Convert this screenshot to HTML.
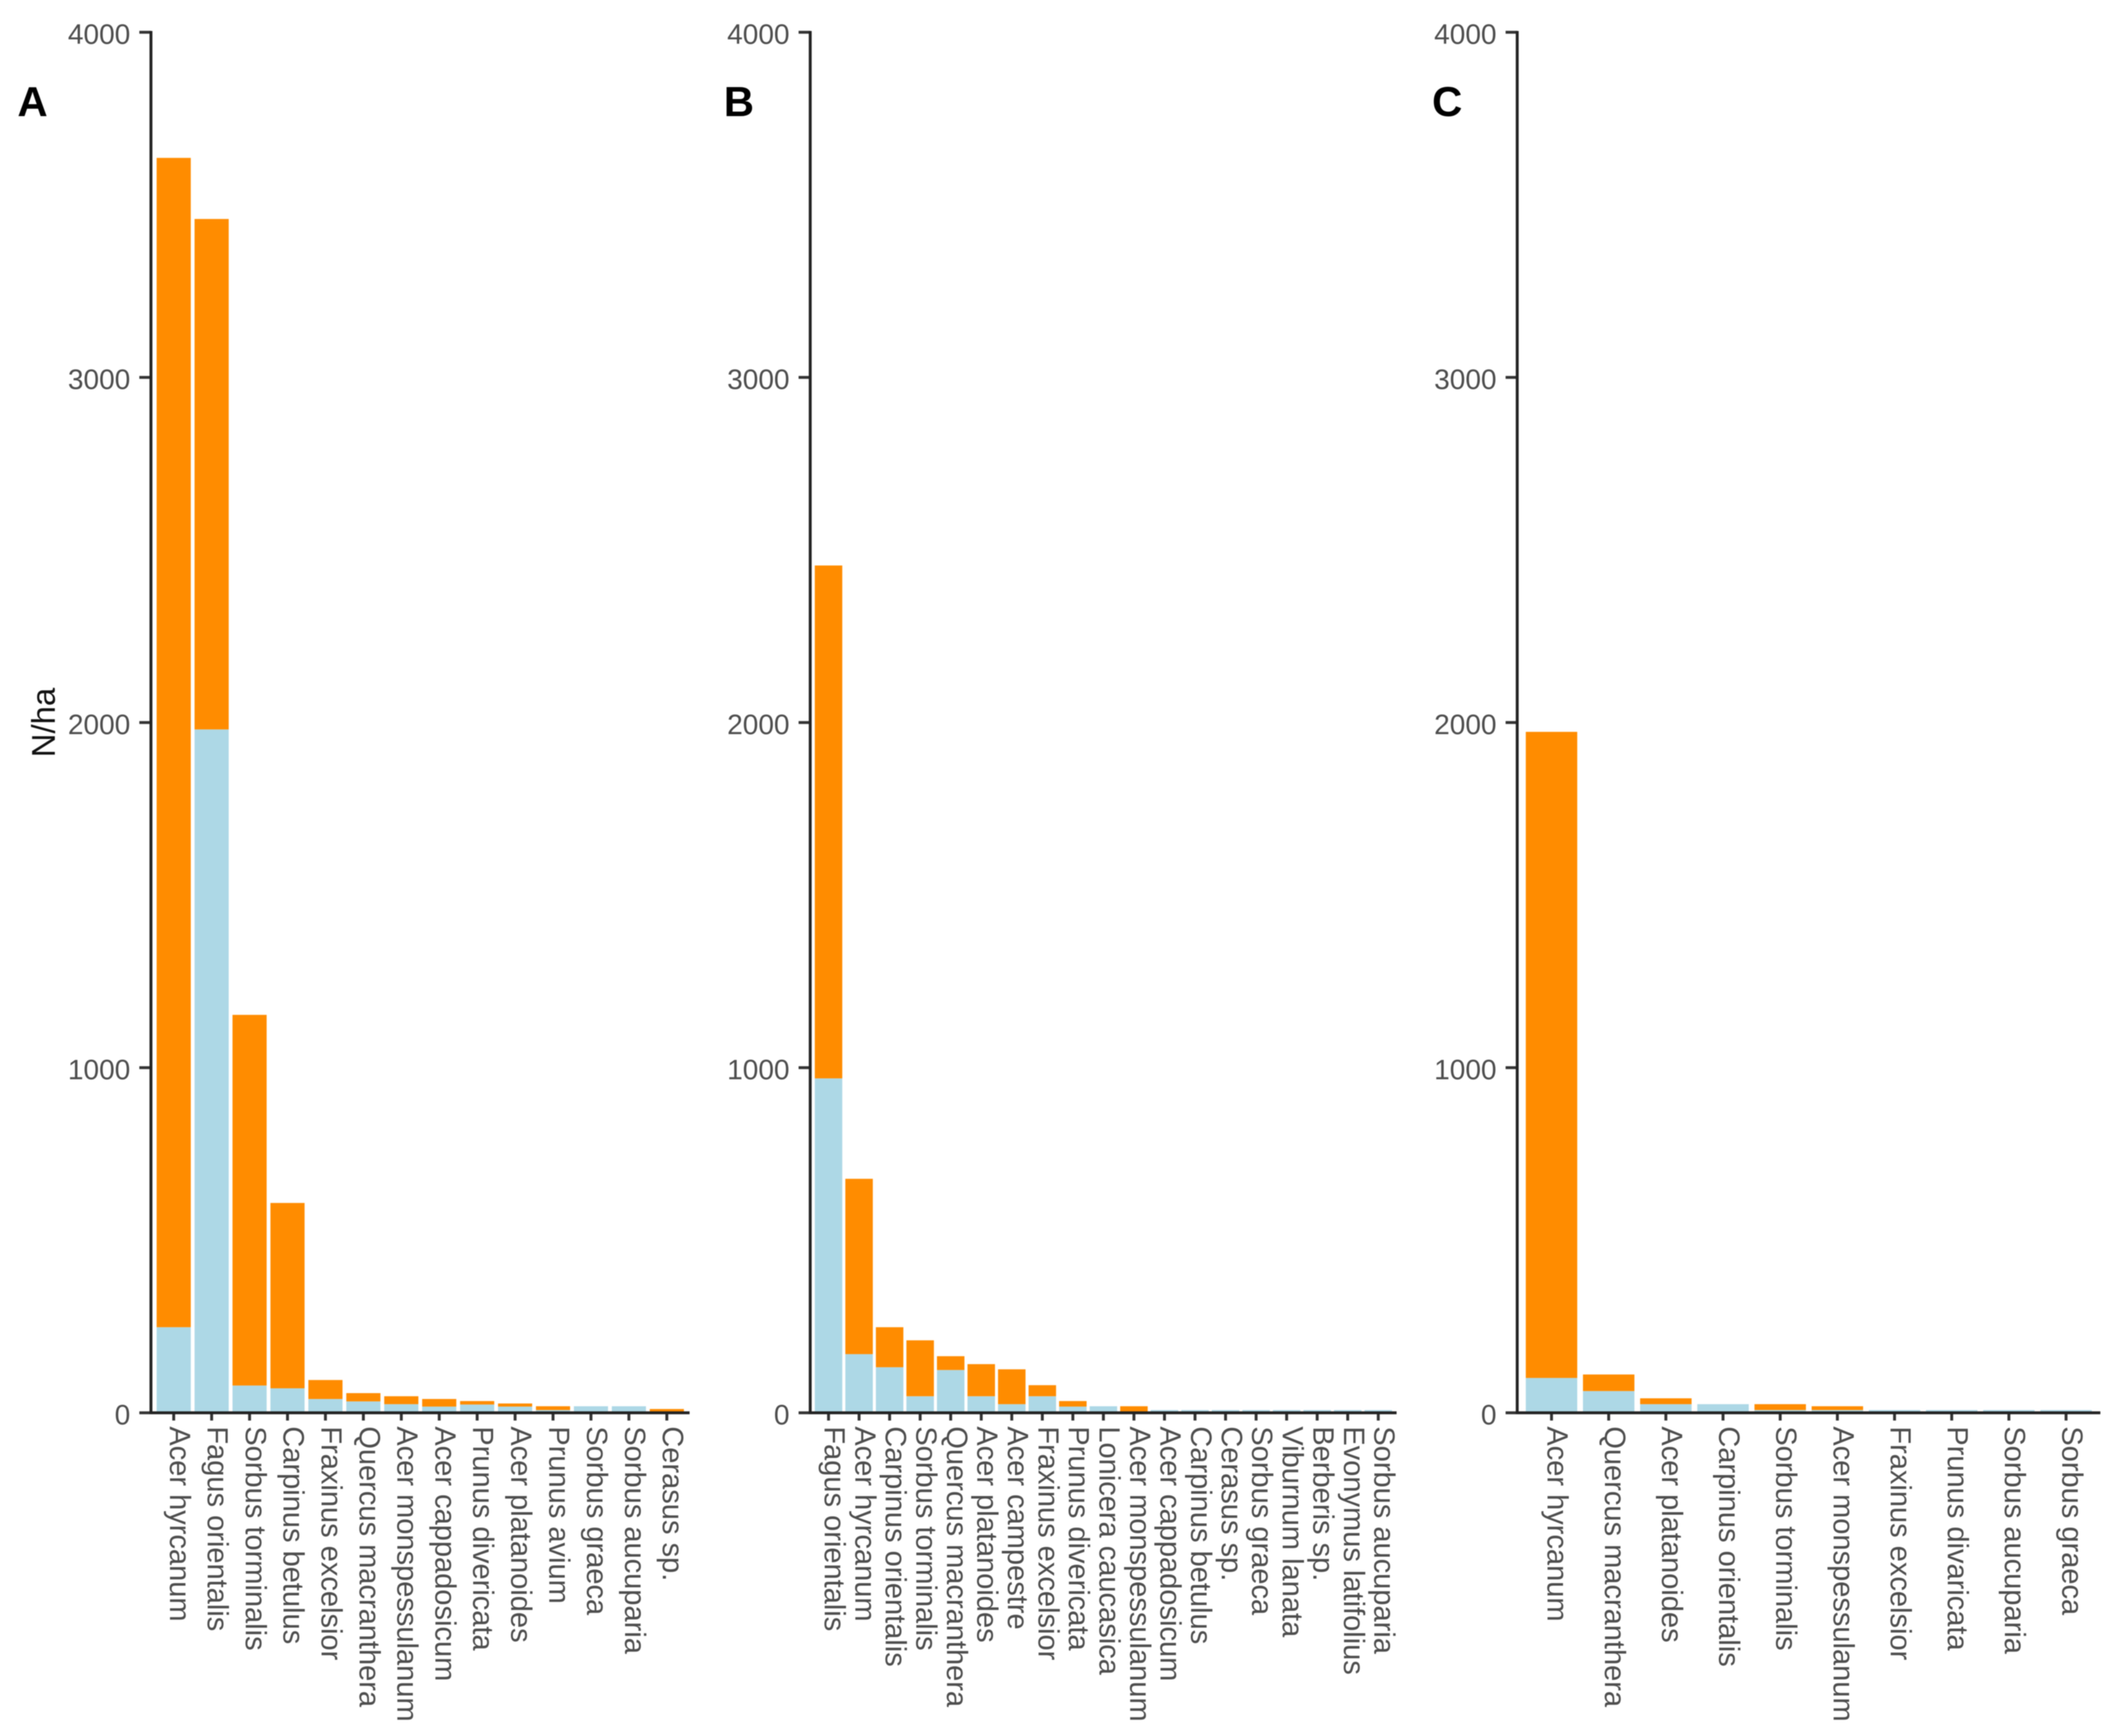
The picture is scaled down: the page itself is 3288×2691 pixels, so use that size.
<!DOCTYPE html>
<html lang="en">
<head>
<meta charset="utf-8">
<title>Stacked bars of N/ha by species</title>
<style>
html,body{margin:0;padding:0;background:#fff;width:3288px;height:2691px;overflow:hidden}
svg{display:block;font-family:"Liberation Sans",sans-serif;filter:blur(0.8px)}
</style>
</head>
<body>
<svg id="chart" xmlns="http://www.w3.org/2000/svg" width="3288" height="2691" viewBox="0 0 3288 2691">
  <rect x="0" y="0" width="3288" height="2691" fill="#ffffff"/>
  <text transform="translate(85 1120) rotate(-90)" text-anchor="middle" font-size="51" fill="#111">N/ha</text>
  <text x="27" y="180" font-size="65" font-weight="bold" fill="#000">A</text>
  <text x="1122" y="180" font-size="65" font-weight="bold" fill="#000">B</text>
  <text x="2220" y="180" font-size="65" font-weight="bold" fill="#000">C</text>
</svg>
<script>
const yTickValues = [0, 1000, 2000, 3000, 4000];

const panelACategories = ["Acer hyrcanum","Fagus orientalis","Sorbus torminalis","Carpinus betulus","Fraxinus excelsior","Quercus macranthera","Acer monspessulanum","Acer cappadosicum","Prunus divericata","Acer platanoides","Prunus avium","Sorbus graeca","Sorbus aucuparia","Cerasus sp."];
const panelALightBlue = [248,1980,79,71,40,33,25,18,24,18,8,19,19,1];
const panelAOrange = [3388,1479,1074,537,55,24,23,22,10,9,11,0,0,10];

const panelBCategories = ["Fagus orientalis","Acer hyrcanum","Carpinus orientalis","Sorbus torminalis","Quercus macranthera","Acer platanoides","Acer campestre","Fraxinus excelsior","Prunus divericata","Lonicera caucasica","Acer monspessulanum","Acer cappadosicum","Carpinus betulus","Cerasus sp.","Sorbus graeca","Viburnum lanata","Berberis sp.","Evonymus latifolius","Sorbus aucuparia"];
const panelBLightBlue = [969,170,132,48,124,48,25,48,18,19,0,8,8,8,8,8,8,8,8];
const panelBOrange = [1486,508,116,162,40,93,101,32,16,0,19,0,0,0,0,0,0,0,0];

const panelCCategories = ["Acer hyrcanum","Quercus macranthera","Acer platanoides","Carpinus orientalis","Sorbus torminalis","Acer monspessulanum","Fraxinus excelsior","Prunus divaricata","Sorbus aucuparia","Sorbus graeca"];
const panelCLightBlue = [101,63,25,25,8,8,8,8,8,8];
const panelCOrange = [1872,48,17,0,17,11,0,0,0,0];

const svgNS = "http://www.w3.org/2000/svg";
const root = document.getElementById("chart");
const plotTop = 50;
const plotBottom = 2190;
const yMax = 4000;

function yScale(v) {
  return plotBottom - (v / yMax) * (plotBottom - plotTop);
}

function makeXScale(axisX, axisEnd, count) {
  const step = (axisEnd - axisX) / (count - 1 + 1.2);
  return { step: step, center: function (i) { return axisX + step * (0.6 + i); } };
}

function shape(parent, tag, attrs) {
  const el = document.createElementNS(svgNS, tag);
  for (const k in attrs) el.setAttribute(k, attrs[k]);
  parent.appendChild(el);
  return el;
}

function drawPanel(key, categories, lightBlue, orange, axisX, axisEnd) {
  const x = makeXScale(axisX, axisEnd, categories.length);
  const barWidth = x.step * 0.9;

  const group = shape(root, "g", {});
  
  

  categories.forEach(function (name, i) {
    const left = x.center(i) - barWidth / 2;
    const lightTop = yScale(lightBlue[i]);
    const stackTop = yScale(lightBlue[i] + orange[i]);

    const lightBar = shape(group, "rect", { x: left, y: lightTop, width: barWidth, height: plotBottom - lightTop, fill: "#ADD8E6" });
    
    

    const orangeBar = shape(group, "rect", { x: left, y: stackTop, width: barWidth, height: lightTop - stackTop, fill: "#FF8C00" });
    
    

    const tick = shape(group, "line", { x1: x.center(i), x2: x.center(i), y1: plotBottom, y2: plotBottom + 12, stroke: "#333", "stroke-width": 4.5 });
    
    

    const label = shape(group, "text", { transform: "translate(" + (x.center(i) - 6) + " " + (plotBottom + 21) + ") rotate(90)", "font-size": 45, fill: "#4d4d4d" });
    label.textContent = name;
    
    
  });

  yTickValues.forEach(function (v) {
    const tick = shape(group, "line", { x1: axisX - 18, x2: axisX, y1: yScale(v), y2: yScale(v), stroke: "#333", "stroke-width": 4.5 });
    
    

    const label = shape(group, "text", { x: axisX - 32, y: yScale(v) + 18, "text-anchor": "end", "font-size": 43.5, fill: "#4d4d4d" });
    label.textContent = String(v);
    
    
  });

  const yAxis = shape(group, "line", { x1: axisX, x2: axisX, y1: plotTop - 2, y2: plotBottom + 2, stroke: "#222", "stroke-width": 4.5 });
  
  

  const xAxis = shape(group, "line", { x1: axisX, x2: axisEnd, y1: plotBottom, y2: plotBottom, stroke: "#222", "stroke-width": 4.5 });
  
  
}

drawPanel("a", panelACategories, panelALightBlue, panelAOrange, 234, 1069);
drawPanel("b", panelBCategories, panelBLightBlue, panelBOrange, 1256, 2165);
drawPanel("c", panelCCategories, panelCLightBlue, panelCOrange, 2352, 3256);
</script>
</body>
</html>
